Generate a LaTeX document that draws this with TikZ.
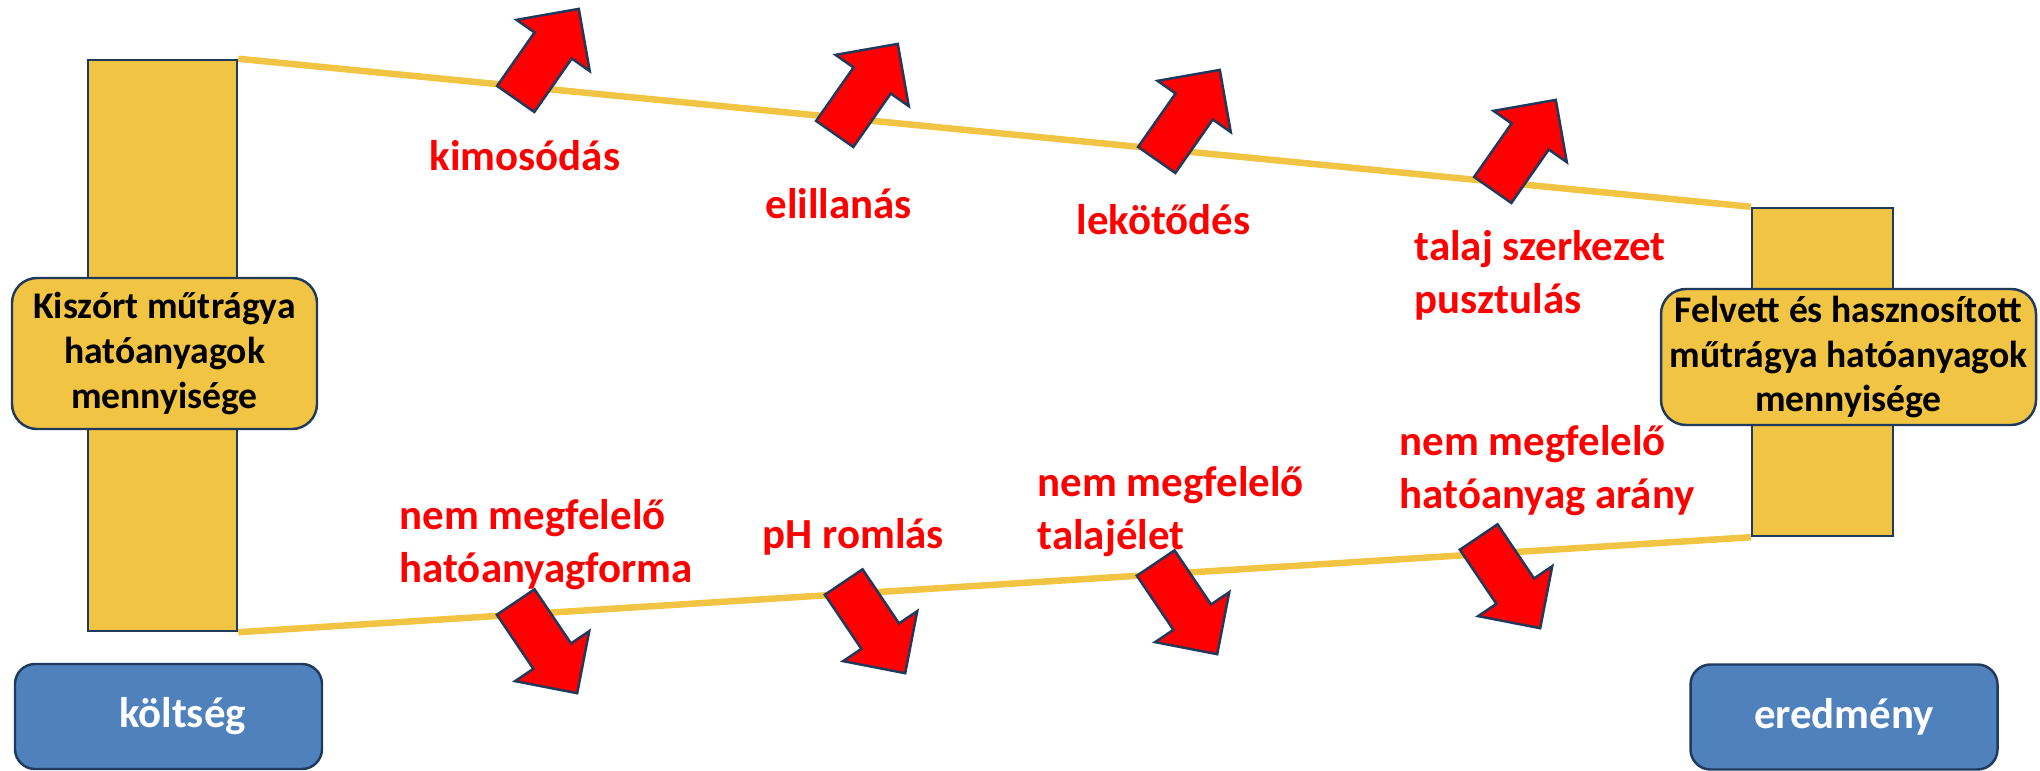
\documentclass[tikz,border=0pt]{standalone}
\usepackage{fontspec}
\setmainfont{Carlito}
\usetikzlibrary{shapes.arrows}

\definecolor{barfill}{HTML}{F2C443}
\definecolor{edge}{HTML}{1F3A5C}
\definecolor{boxblue}{HTML}{4F81BD}

\tikzset{
	bar/.style={draw=edge, fill=barfill, line width=0.7pt, inner sep=0pt},
	amount/.style={bar, rounded corners=2.5mm, align=center, font=\fontsize{10.7}{12.8}\selectfont\bfseries},
	endbox/.style={draw=edge, fill=boxblue, line width=0.7pt, rounded corners=2mm, text=white,
		minimum width=30.7mm, minimum height=10.5mm, font=\fontsize{12.2}{15}\selectfont\bfseries},
	loss/.style={text=red, align=left, anchor=west, inner sep=0pt, font=\fontsize{12.2}{15.1}\selectfont\bfseries},
	flow/.style={draw=barfill, line width=1.85pt},
	lossarrow/.style={single arrow, draw=edge, fill=red, line width=0.7pt, inner xsep=0pt, inner ysep=2.15mm,
		minimum height=11mm, single arrow head extend=2.2mm, anchor=tail}
}

\begin{document}
\begin{tikzpicture}[x=0.1mm, y=-0.1mm]
			\useasboundingbox (0,0) rectangle (2040,771);
			% the two bars
			\node[bar, minimum width=14.9mm, minimum height=57.1mm] (lbar) at (162.5,345.5) {};
			\node[bar, minimum width=14.1mm, minimum height=32.8mm] (rbar) at (1822.5,372) {};
			\draw[flow] (lbar.north east) -- (rbar.north west);
			\draw[flow] (lbar.south east) -- (rbar.south west);
			\node[amount, minimum width=30.5mm, minimum height=15.1mm] (lamount) at (164.5,353.5)
				{Kiszórt műtrágya\\hatóanyagok\\mennyisége};
			\node[amount, minimum width=37.5mm, minimum height=13.6mm] (ramount) at (1848.5,357)
				{Felvett és hasznosított\\műtrágya hatóanyagok\\mennyisége};
			\node[endbox] (cost) at (168.5,716.5) {\hspace*{2.8mm}költség};
			\node[endbox] (result) at (1844,717) {eredmény};
			% losses
			\node[loss] (l1) at (429,156) {kimosódás};
			\node[loss] (l2) at (765,204) {elillanás};
			\node[loss] (l3) at (1076,220) {lekötődés};
			\node[loss] (l4) at (1414,275) {talaj szerkezet\\pusztulás};
			\node[loss] (l5) at (399,545) {nem megfelelő\\hatóanyagforma};
			\node[loss] (l6) at (762,537) {pH romlás};
			\node[loss] (l7) at (1037,512) {nem megfelelő\\talajélet};
			\node[loss] (l8) at (1399,471) {nem megfelelő\\hatóanyag arány};
			\foreach \x/\y [count=\i] in {515/100, 834/135, 1156/161, 1492/191}
				\node[lossarrow, rotate=55] (up\i) at (\x,\y) {};
			\foreach \x/\y [count=\i] in {515/601, 843/581, 1155/562, 1478/536}
				\node[lossarrow, rotate=-56] (down\i) at (\x,\y) {};
		\end{tikzpicture}
\end{document}
